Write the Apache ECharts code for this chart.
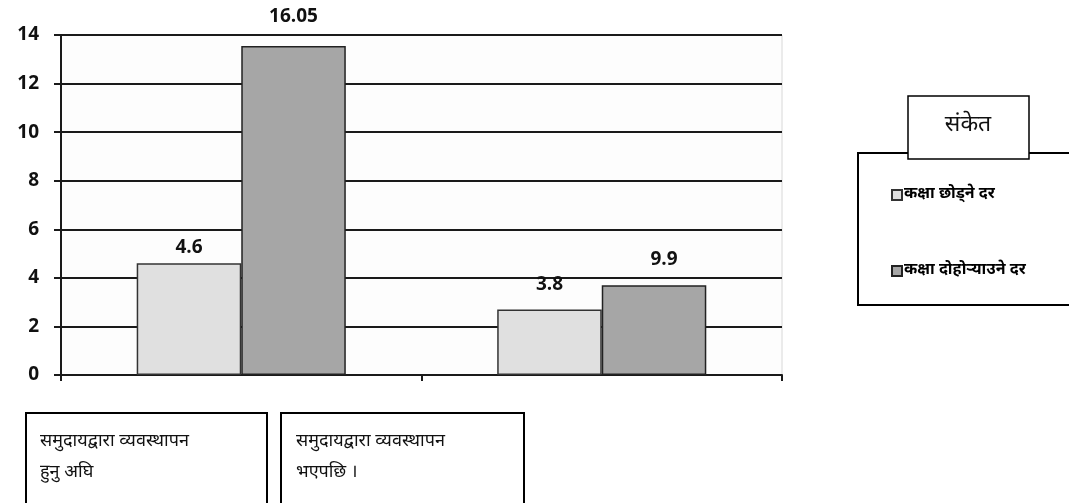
<!DOCTYPE html>
<html><head><meta charset="utf-8">
<script src="https://cdn.jsdelivr.net/npm/echarts@6/dist/echarts.min.js"></script>
<style>html,body{margin:0;padding:0;background:#fff}#c{width:1069px;height:503px}</style>
</head><body><div id="c"></div>
<script>
const categories = ['समुदायद्वारा व्यवस्थापन\nहुनु अघि', 'समुदायद्वारा व्यवस्थापन\nभएपछि ।'];
const seriesNames = ['कक्षा छोड्ने दर', 'कक्षा दोहोर्‍याउने दर'];
const dropoutHeights = [4.6, 2.7];
const repeatHeights = [13.55, 3.7];
const dropoutLabels = ['4.6', '3.8'];
const repeatLabels = ['16.05', '9.9'];
const yTicks = [0, 2, 4, 6, 8, 10, 12, 14];
const legendTitle = 'संकेत';

const chart = echarts.init(document.getElementById('c'));
const devFont = '"Noto Sans Devanagari","Lohit Devanagari","Noto Serif Devanagari","Noto Sans",sans-serif';
const labelDist = [[6, 15], [20, 16]];
const labelOffX = [[0, 0], [0, 10]];

function mkData(vals, labels, si) {
  return vals.map((v, i) => ({
    value: v,
    label: { formatter: labels[i], distance: labelDist[si][i], offset: [labelOffX[si][i], 0] }
  }));
}

const numFont = { color: '#111', fontWeight: 'bold', fontSize: 19, fontFamily: '"Open Sans",sans-serif' };

const option = {
  animation: false,
  grid: { left: 61, right: 287, top: 35, bottom: 128, show: true, backgroundColor: '#fdfdfd', borderColor: '#d8d8d8', borderWidth: 1 },
  xAxis: {
    type: 'category', data: categories,
    axisLine: { lineStyle: { color: '#1a1a1a', width: 2 } },
    axisTick: { show: true, length: 6, lineStyle: { color: '#1a1a1a', width: 2 } },
    axisLabel: { show: false }
  },
  yAxis: {
    type: 'value', min: yTicks[0], max: yTicks[yTicks.length - 1], interval: 2,
    axisLine: { show: true, lineStyle: { color: '#1a1a1a', width: 2 } },
    axisTick: { show: true, length: 7, lineStyle: { color: '#1a1a1a', width: 2 } },
    axisLabel: Object.assign({ margin: 22 }, numFont),
    splitLine: { lineStyle: { color: '#1a1a1a', width: 2 } }
  },
  legend: {
    orient: 'vertical', left: 886, top: 182, itemGap: 60,
    itemWidth: 10, itemHeight: 10, icon: 'rect',
    data: seriesNames,
    textStyle: { color: '#000', fontWeight: 'bold', fontSize: 16, fontFamily: devFont, padding: [0, 0, 0, -3] }
  },
  series: [
    {
      name: seriesNames[0], type: 'bar', data: mkData(dropoutHeights, dropoutLabels, 0),
      barGap: '0%', barCategoryGap: '42%',
      itemStyle: { color: '#e0e0e0', borderColor: '#333', borderWidth: 1.5 },
      label: Object.assign({ show: true, position: 'top' }, numFont)
    },
    {
      name: seriesNames[1], type: 'bar', data: mkData(repeatHeights, repeatLabels, 1),
      barGap: '0%', barCategoryGap: '42%',
      itemStyle: { color: '#a6a6a6', borderColor: '#222', borderWidth: 1.5 },
      label: Object.assign({ show: true, position: 'top' }, numFont)
    }
  ],
  graphic: [
    { type: 'rect', shape: { x: 858, y: 153, width: 230, height: 152 }, style: { fill: 'none', stroke: '#000', lineWidth: 2 }, z: 1 },
    { type: 'rect', shape: { x: 908, y: 96, width: 121, height: 63 }, style: { fill: '#fff', stroke: '#000', lineWidth: 1.5 }, z: 2 },
    { type: 'text', x: 968, y: 127, style: { text: legendTitle, fill: '#111', fontSize: 23, fontFamily: devFont, align: 'center', verticalAlign: 'middle' }, z: 3 },
    { type: 'rect', shape: { x: 26, y: 413, width: 241, height: 100 }, style: { fill: '#fff', stroke: '#000', lineWidth: 2 } },
    { type: 'rect', shape: { x: 281, y: 413, width: 243, height: 100 }, style: { fill: '#fff', stroke: '#000', lineWidth: 2 } },
    { type: 'text', x: 40, y: 458, style: { text: categories[0], fill: '#111', fontSize: 18, lineHeight: 31, fontFamily: devFont, verticalAlign: 'middle' } },
    { type: 'text', x: 296, y: 458, style: { text: categories[1], fill: '#111', fontSize: 18, lineHeight: 31, fontFamily: devFont, verticalAlign: 'middle' } }
  ]
};
chart.setOption(option);
</script></body></html>
